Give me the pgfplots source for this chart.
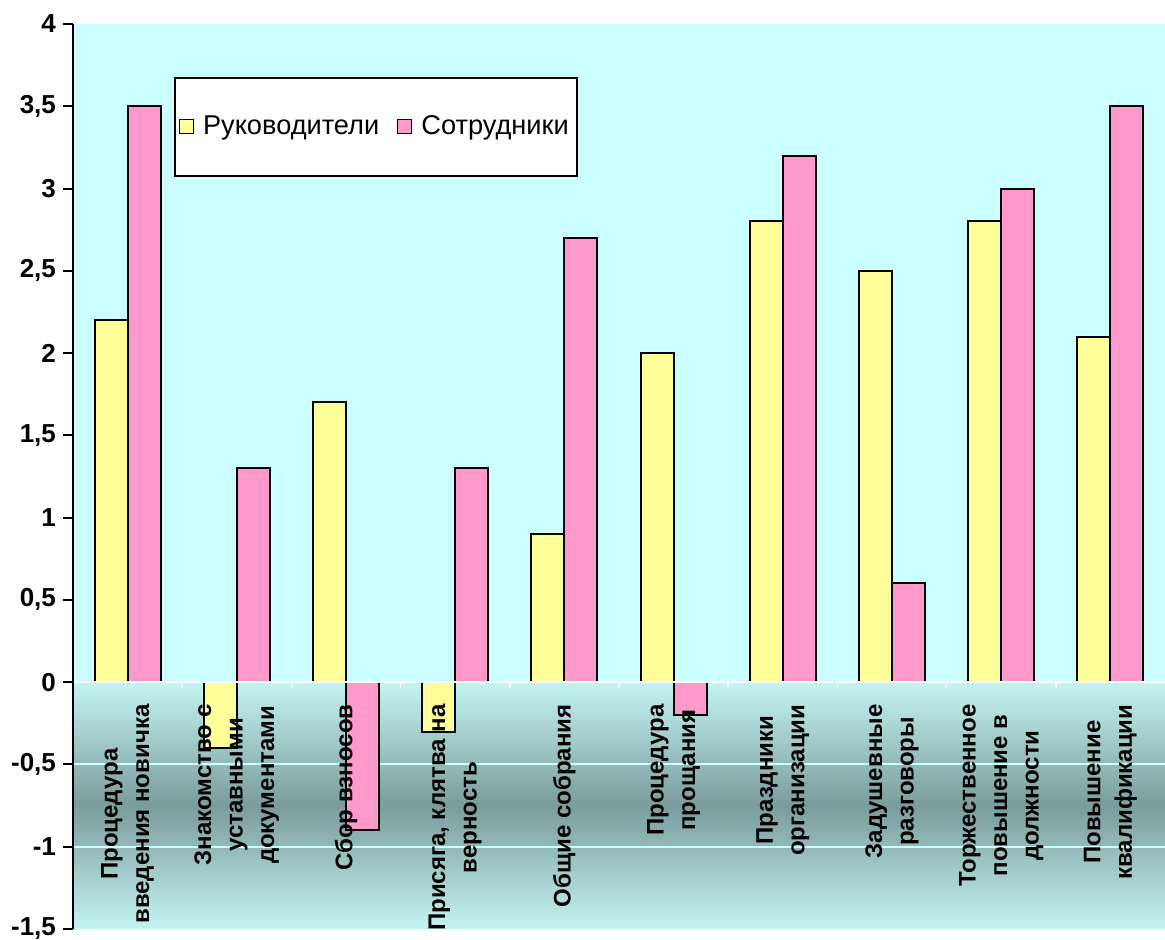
\documentclass[border=0pt]{standalone}
\usepackage{fontspec}
\setmainfont{Liberation Sans}
\usepackage{pgfplots}
\pgfplotsset{compat=1.18}

\definecolor{ruk}{HTML}{FFFF99}
\definecolor{sotr}{HTML}{FF99CC}
\definecolor{bgup}{HTML}{CCFFFF}
\definecolor{bglt}{HTML}{C4F4F2}
\definecolor{bgdk}{HTML}{7A9C9C}

\begin{document}
\begin{tikzpicture}
\begin{axis}[
  axis on top,
  scale only axis, width=546pt, height=452.5pt,
  at={(0,0)}, anchor=south west,
  ybar=0pt, bar width=16.5pt,
  xmin=-0.5, xmax=9.5, ymin=-1.5, ymax=4,
  axis x line=middle, axis y line=left,
  hide obscured x ticks=false, hide obscured y ticks=false,
  x axis line style={-, white, line width=1pt},
  y axis line style={-, black, line width=1pt},
  ytick={-1.5,-1,...,4},
  yticklabel style={font=\bfseries\fontsize{13}{15}\selectfont},
  /pgf/number format/use comma,
  /pgf/number format/assume math mode=true,
  y tick style={black, line width=1pt},
  tick align=outside, major tick length=5pt,
  xtick={0,...,9},
  major x tick style={draw=none},
  minor xtick={0.5,1.5,...,8.5},
  minor x tick style={white, line width=0.8pt},
  minor tick length=3pt,
  xticklabels={
    {Процедура\\введения новичка},
    {Знакомство с\\уставными\\документами},
    {Сбор взносов},
    {Присяга, клятва на\\верность},
    {Общие собрания},
    {Процедура\\прощания},
    {Праздники\\организации},
    {Задушевные\\разговоры},
    {Торжественное\\повышение в\\должности},
    {Повышение\\квалификации}},
  xticklabel style={rotate=90, anchor=east, align=center, inner sep=0pt,
    font=\bfseries\fontsize{12}{15.75}\selectfont},
  xticklabel shift=6pt,
  legend columns=2,
  legend style={at={(0.0925,0.9414)}, anchor=north west, draw=black,
    fill=white, line width=0.8pt, inner xsep=2pt, inner ysep=17pt,
    font=\fontsize{13.6}{15}\selectfont,
    /tikz/column 1/.style={column sep=2.5pt},
    /tikz/column 2/.style={column sep=7pt},
    /tikz/column 3/.style={column sep=2.5pt}},
  legend image code/.code={\draw[#1, line width=0.6pt] (7pt,-3.5pt) rectangle (14pt,3.5pt);},
]
% plot area background and the two visible grid lines
\pgfplotsextra{%
  \fill[bgup] (axis cs:-0.5,0) rectangle (axis cs:9.5,4);
  \shade[top color=bglt, bottom color=bglt, middle color=bgdk]
    (axis cs:-0.5,-1.5) rectangle (axis cs:9.5,0);
  \draw[bgup, line width=1pt] (axis cs:-0.5,-0.5) -- (axis cs:9.5,-0.5);
  \draw[bgup, line width=1pt] (axis cs:-0.5,-1) -- (axis cs:9.5,-1);
}

\addplot[fill=ruk, draw=black, line width=1pt] coordinates {
  (0,2.2) (1,-0.4) (2,1.7) (3,-0.3) (4,0.9)
  (5,2.0) (6,2.8) (7,2.5) (8,2.8) (9,2.1)};
\addplot[fill=sotr, draw=black, line width=1pt] coordinates {
  (0,3.5) (1,1.3) (2,-0.9) (3,1.3) (4,2.7)
  (5,-0.2) (6,3.2) (7,0.6) (8,3.0) (9,3.5)};
\legend{Руководители, Сотрудники}
\end{axis}
\pgfresetboundingbox
\useasboundingbox (-36.5pt,-5.5pt) rectangle (546pt,464.5pt);
\end{tikzpicture}
\end{document}
